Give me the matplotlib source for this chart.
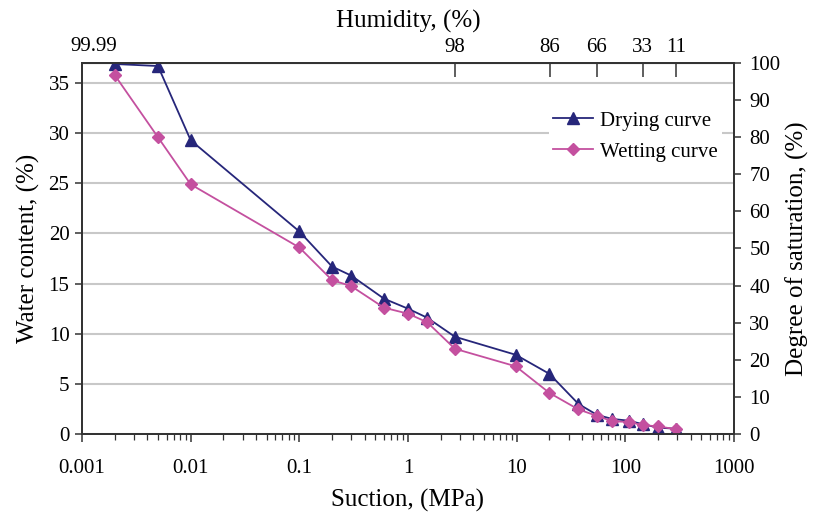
import matplotlib
matplotlib.use('Agg')
import matplotlib.pyplot as plt

plt.rcParams['font.family'] = ['Liberation Serif', 'DejaVu Serif']
plt.rcParams['font.size'] = 15

# Data (suction in MPa, water content in %)
suction = [0.002, 0.005, 0.01, 0.1, 0.2, 0.3, 0.6, 1, 1.5, 2.7, 9.8, 20,
           37, 55, 76, 107, 146, 200, 292]
drying = [36.9, 36.7, 29.3, 20.2, 16.7, 15.8, 13.5, 12.5, 11.6, 9.7, 7.9, 6.0,
          3.0, 1.9, 1.5, 1.33, 0.97, 0.63, 0.53]
wetting = [35.8, 29.6, 24.9, 18.6, 15.35, 14.75, 12.6, 12.0, 11.15, 8.5, 6.75, 4.1,
           2.45, 1.8, 1.27, 1.2, 0.87, 0.77, 0.47]

# Top axis: relative humidity labels and their suction positions
humidity_labels = ['98', '86', '66', '33', '11']
humidity_suction = [2.68, 20.2, 54.7, 145, 292]

left_ticks = [0, 5, 10, 15, 20, 25, 30, 35]
right_ticks = [0, 10, 20, 30, 40, 50, 60, 70, 80, 90, 100]

fig = plt.figure(figsize=(8.15, 5.19), dpi=100)
ax = fig.add_axes([0.1006, 0.1638, 0.80, 0.7148])

spine_col = '#333333'
ax.plot(suction, drying, color='#26267a', marker='^', markersize=8.5, lw=1.3,
        label='Drying curve', zorder=3)
ax.plot(suction, wetting, color='#c4509f', marker='D', markersize=6, lw=1.3,
        label='Wetting curve', zorder=3)

ax.set_xscale('log')
ax.set_xlim(0.001, 1000)
ax.set_ylim(0, 37)
ax.set_yticks(left_ticks)
ax.set_xticks([0.001, 0.01, 0.1, 1, 10, 100, 1000])
ax.set_xticklabels(['0.001', '0.01', '0.1', '1', '10', '100', '1000'])
ax.yaxis.grid(True, color='#c8c8c8', lw=1.5)
ax.set_axisbelow(True)

for s in ax.spines.values():
    s.set_color(spine_col)
    s.set_linewidth(1.3)

ax.tick_params(axis='x', which='major', direction='out', length=6, width=1.1,
               color=spine_col, pad=12, top=False)
ax.tick_params(axis='x', which='minor', direction='out', length=4, width=0.9,
               color=spine_col, top=False)
ax.tick_params(axis='y', direction='out', length=5, width=1.1, color=spine_col, pad=4)

ax.set_xlabel('Suction, (MPa)', fontsize=18, labelpad=8)
ax.set_ylabel('Water content, (%)', fontsize=18, labelpad=6)

# Right axis: degree of saturation
ax2 = ax.twinx()
ax2.set_ylim(0, 100)
ax2.set_yticks(right_ticks)
ax2.tick_params(axis='y', direction='out', length=5, width=1.1, color=spine_col, pad=6)
ax2.set_ylabel('Degree of saturation, (%)', fontsize=18, labelpad=4)
for s in ax2.spines.values():
    s.set_color(spine_col)
    s.set_linewidth(1.3)

# Top axis: humidity
top = ax.secondary_xaxis('top')
top.set_xticks(humidity_suction)
top.set_xticklabels(humidity_labels)
top.xaxis.set_minor_locator(matplotlib.ticker.NullLocator())
top.tick_params(axis='x', direction='in', length=10, width=1.1, color=spine_col, pad=4)
top.spines['top'].set_color(spine_col)
top.set_xlabel('Humidity, (%)', fontsize=18, labelpad=8)
ax.text(0.00127, 1.02, '99.99', transform=ax.get_xaxis_transform(),
        ha='center', va='bottom', fontsize=15)

leg = ax.legend(loc='upper left', bbox_to_anchor=(0.70, 0.91), fontsize=15,
                frameon=True, fancybox=False, edgecolor='none', facecolor='white',
                framealpha=1, handlelength=1.9, handletextpad=0.35,
                labelspacing=0.55, borderpad=0.2)

fig.savefig('out.png', dpi=100)
